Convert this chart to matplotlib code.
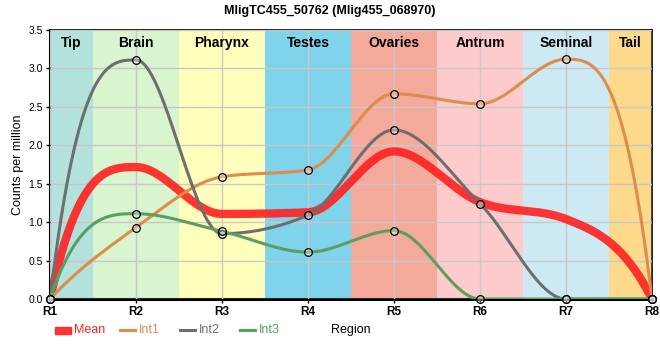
import matplotlib
matplotlib.use('Agg')
import matplotlib.pyplot as plt
from matplotlib.patches import Rectangle
import numpy as np

plt.rcParams['font.family'] = ['Liberation Sans', 'DejaVu Sans']

# data
regions = ['R1', 'R2', 'R3', 'R4', 'R5', 'R6', 'R7', 'R8']
int1 = [0.0, 0.93, 1.59, 1.68, 2.67, 2.54, 3.12, 0.0]
int2 = [0.0, 3.11, 0.85, 1.09, 2.20, 1.24, 0.0, 0.0]
int3 = [0.0, 1.11, 0.88, 0.61, 0.89, 0.0, 0.0, 0.0]
mean = list(np.mean([int1, int2, int3], axis=0))

tissues = ['Tip', 'Brain', 'Pharynx', 'Testes', 'Ovaries', 'Antrum', 'Seminal', 'Tail']
tissue_colors = ['#b3e2dc', '#d8f5cf', '#ffffbb', '#7fd3ea', '#f4aa9b',
                 '#fdcbcb', '#cdeaf4', '#fdd98b']

RED = '#ff2020'
ORANGE = '#dd8c4c'
GRAY = '#6e6e6e'
GREEN = '#5a9e60'


def monotone_curve(y, n=60):
    '''Monotone cubic path through the points.

    Interior tangents as in d3 curveMonotoneX, end tangents steeper
    (3 * secant - 2 * neighbour tangent), which is what the reference shows.
    '''
    y = np.asarray(y, dtype=float)
    x = np.arange(len(y), dtype=float)
    s = np.diff(y)
    t = np.zeros(len(y))
    for i in range(1, len(y) - 1):
        s0, s1 = s[i - 1], s[i]
        p = (s0 + s1) / 2
        sg = (1 if s0 >= 0 else -1) + (1 if s1 >= 0 else -1)
        t[i] = sg * min(abs(s0), abs(s1), 0.5 * abs(p))
    t[0] = 3 * s[0] - 2 * t[1]
    t[-1] = 3 * s[-1] - 2 * t[-2]
    xs, ys = [], []
    u = np.linspace(0, 1, n)
    h00 = 2 * u**3 - 3 * u**2 + 1
    h10 = u**3 - 2 * u**2 + u
    h01 = -2 * u**3 + 3 * u**2
    h11 = u**3 - u**2
    for i in range(len(y) - 1):
        xs.append(x[i] + u)
        ys.append(h00 * y[i] + h10 * t[i] + h01 * y[i + 1] + h11 * t[i + 1])
    return np.concatenate(xs), np.concatenate(ys)


fig = plt.figure(figsize=(6.6, 3.6), dpi=100)
ax = fig.add_axes([0.0758, 0.1694, 0.912, 0.7473])

x = np.arange(len(regions))
edges = [0] + [i + 0.5 for i in range(len(regions) - 1)] + [len(regions) - 1]
for i, (name, col) in enumerate(zip(tissues, tissue_colors)):
    ax.axvspan(edges[i], edges[i + 1], color=col, lw=0, zorder=0)
    ax.text((edges[i] + edges[i + 1]) / 2, 3.42, name, ha='center', va='top',
            fontsize=10, fontweight='bold', zorder=6)

ax.grid(True, color='#c8c8c8', lw=1, zorder=1)
ax.set_axisbelow(False)

cx, cy = monotone_curve(mean)
ax.plot(cx, cy, color=RED, lw=6, alpha=0.9, zorder=3, solid_capstyle='butt')
series = [(int1, ORANGE), (int2, GRAY), (int3, GREEN)]
for vals, col in series:
    cx, cy = monotone_curve(vals)
    ax.plot(cx, cy, color=col, lw=2.2, zorder=4)
for vals, col in series:
    ax.plot(x, vals, 'o', ms=5.5, mfc=(1, 1, 1, 0.35), mec='black', mew=0.9,
            zorder=5, clip_on=False)

ax.set_xlim(0, 7)
ax.set_ylim(0, 3.5)
ax.set_xticks(x)
ax.set_xticklabels(regions, fontsize=8.5, fontweight='bold')
ax.set_yticks(np.arange(0, 3.51, 0.5))
ax.set_yticklabels(['%.1f' % v for v in np.arange(0, 3.51, 0.5)], fontsize=7.5)
ax.tick_params(length=3, width=1, pad=2)
for side in ['top', 'right']:
    ax.spines[side].set_linewidth(1.2)
ax.spines['left'].set_linewidth(1.5)
ax.spines['bottom'].set_linewidth(2.2)

ax.set_ylabel('Counts per million', fontsize=9, labelpad=3)
fig.suptitle('MligTC455_50762 (Mlig455_068970)', x=0.5, y=0.985, fontsize=9,
             fontweight='bold')

# legend along the bottom, placed in pixels
W, H = 660.0, 360.0
ly = 1 - 330 / H
fig.patches.append(Rectangle((55 / W, 1 - 334 / H), 16 / W, 7 / H, color=RED,
                             alpha=0.9, transform=fig.transFigure))
fig.text(74 / W, ly, 'Mean', color=RED, fontsize=9, va='center')
legend_items = [('Int1', ORANGE, 120), ('Int2', GRAY, 180), ('Int3', GREEN, 240)]
for name, col, px in legend_items:
    fig.lines.append(plt.Line2D([px / W, (px + 15) / W], [ly, ly], color=col,
                                lw=2.2, transform=fig.transFigure))
    fig.text((px + 19) / W, ly, name, color=col, fontsize=9, va='center')
fig.text(331 / W, ly, 'Region', color='black', fontsize=9, va='center')

fig.savefig('out.png', dpi=100)
